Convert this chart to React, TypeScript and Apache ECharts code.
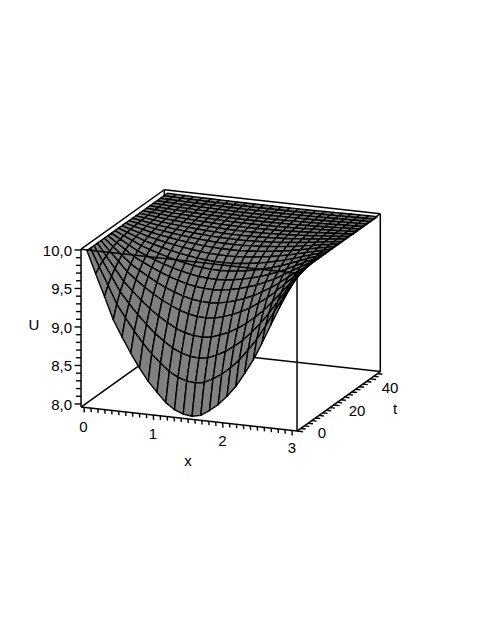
import React, { useEffect, useRef } from "react";
import * as echarts from "echarts";

// Depth of the dip below U = 10 along the t = 0 edge, one value per x mesh line
const dropAtX = [0, 0.29, 0.57, 0.86, 1.07, 1.27, 1.45, 1.61, 1.74, 1.86, 1.94, 1.985, 2.0, 1.975, 1.9, 1.81, 1.69, 1.55, 1.37, 1.18, 0.95, 0.7, 0.46, 0.24, 0];
// Share of that dip left at each t mesh line
const fadeAtT = [1, 0.8, 0.655, 0.535, 0.426, 0.344, 0.275, 0.225, 0.183, 0.148, 0.12, 0.097, 0.079, 0.064, 0.052, 0.042, 0.034, 0.027, 0.022, 0.018, 0.014, 0.011, 0.009, 0.007];
const xMesh = [0.043, 0.169, 0.296, 0.422, 0.548, 0.675, 0.801, 0.927, 1.054, 1.18, 1.306, 1.432, 1.559, 1.685, 1.811, 1.938, 2.064, 2.19, 2.317, 2.443, 2.569, 2.696, 2.822, 2.948, 3.074];
const tMesh = [0, 1.913, 3.826, 5.739, 7.652, 9.565, 11.478, 13.391, 15.304, 17.217, 19.13, 21.043, 22.957, 24.87, 26.783, 28.696, 30.609, 32.522, 34.435, 36.348, 38.261, 40.174, 42.087, 44];
const xTickLabels = ["0", "1", "2", "3"];
const tTickLabels = ["0", "20", "40"];
const uTickLabels = ["8,0", "8,5", "9,0", "9,5", "10,0"];
const xRange = [-0.043, 3.074];
const tRange = [0, 45.6];
const uRange = [7.96, 10.01];

const project = (x: number, t: number, u: number): [number, number] => [
  84 + 69.3 * x + 1.826 * t,
  404.3 + 7.7 * x - 1.304 * t - 77 * (u - 8),
];
const surfaceU = (i: number, j: number) => 10 - dropAtX[i] * fadeAtT[j];

type Seg = [number, number, number, number, number, number];
const edge = (a: number[], b: number[]): Seg => [a[0], a[1], a[2], b[0], b[1], b[2]];
const [x0, x1] = xRange;
const [t0, t1] = tRange;
const [u0, u1] = uRange;

const backEdges: Seg[] = [
  edge([x0, t0, u0], [x0, t1, u0]),
  edge([x0, t1, u0], [x1, t1, u0]),
  edge([x0, t1, u0], [x0, t1, u1]),
  edge([x1, t1, u0], [x1, t1, u1]),
];
const frontEdges: Seg[] = [
  edge([x0, t0, u0], [x1, t0, u0]),
  edge([x1, t0, u0], [x1, t1, u0]),
  edge([x0, t0, u0], [x0, t0, u1]),
  edge([x1, t0, u0], [x1, t0, u1]),
  edge([x0, t0, u1], [x1, t0, u1]),
  edge([x1, t0, u1], [x1, t1, u1]),
  edge([x1, t1, u1], [x0, t1, u1]),
  edge([x0, t1, u1], [x0, t0, u1]),
];

const cells: number[][] = [];
for (let j = tMesh.length - 2; j >= 0; j--) {
  for (let i = 0; i < xMesh.length - 1; i++) {
    cells.push([
      ...project(xMesh[i], tMesh[j], surfaceU(i, j)),
      ...project(xMesh[i + 1], tMesh[j], surfaceU(i + 1, j)),
      ...project(xMesh[i + 1], tMesh[j + 1], surfaceU(i + 1, j + 1)),
      ...project(xMesh[i], tMesh[j + 1], surfaceU(i, j + 1)),
    ]);
  }
}

const ticks: number[][] = [];
for (let k = 0; k <= 30; k++) {
  const x = k / 10;
  const [a, b] = project(x, 0, u0);
  ticks.push([a, b, a + 0.3, b + (k % 10 === 0 ? 5 : 4)]);
}
for (let k = 0; k <= 20; k++) {
  const u = 8 + k / 10;
  const [a, b] = project(x0, 0, u);
  ticks.push([a, b, a - (k % 5 === 0 ? 6.5 : 5), b]);
}
for (let k = 0; k <= 22; k++) {
  const t = k * 2;
  const [a, b] = project(x1, t, u0);
  const len = k % 10 === 0 ? 6 : 5;
  ticks.push([a, b, a + len, b + len * 0.11]);
}

type Lab = { text: string; x: number; y: number; align: string };
const labels: Lab[] = [
  ...xTickLabels.map((text, k) => ({ text, x: 83.5 + 69.5 * k, y: 426 + 7.3 * k, align: "center" })),
  ...tTickLabels.map((text, k) => ({ text, x: [322, 357, 390][k], y: [432, 410, 387][k], align: "center" })),
  ...uTickLabels.map((text, k) => ({ text, x: 72, y: 404 - 38.5 * k, align: "right" })),
  { text: "x", x: 188, y: 460, align: "center" },
  { text: "t", x: 395, y: 408, align: "center" },
  { text: "U", x: 34, y: 324, align: "center" },
];

const lineSeries = (data: number[][], z: number, width: number) => ({
  type: "custom",
  coordinateSystem: "cartesian2d",
  silent: true,
  clip: false,
  z,
  data,
  encode: { x: 0, y: 1 },
  renderItem: (_: any, api: any) => {
    const p = api.coord([api.value(0), api.value(1)]);
    const q = api.coord([api.value(2), api.value(3)]);
    return {
      type: "line",
      shape: { x1: p[0], y1: p[1], x2: q[0], y2: q[1] },
      style: { stroke: "#000", lineWidth: width, fill: "none" },
    };
  },
});

const toScreen = (s: Seg[]) =>
  s.map((e) => [...project(e[0], e[1], e[2]), ...project(e[3], e[4], e[5])]);

export default function App() {
  const ref = useRef<HTMLDivElement>(null);
  useEffect(() => {
    const chart = echarts.init(ref.current!, undefined, { renderer: "svg" });
    chart.setOption({
      animation: false,
      backgroundColor: "#fff",
      grid: { left: 0, right: 0, top: 0, bottom: 0 },
      xAxis: { type: "value", min: 0, max: 491, show: false },
      yAxis: { type: "value", min: 0, max: 635, inverse: true, show: false },
      series: [
        lineSeries(toScreen(backEdges), 1, 1.5),
        {
          type: "custom",
          coordinateSystem: "cartesian2d",
          silent: true,
          clip: false,
          z: 2,
          data: cells,
          encode: { x: 0, y: 1 },
          renderItem: (_: any, api: any) => {
            const pts = [0, 2, 4, 6].map((k) => api.coord([api.value(k), api.value(k + 1)]));
            return {
              type: "polygon",
              shape: { points: pts },
              style: { fill: "#808080", stroke: "#000", lineWidth: 1.4, lineJoin: "round" },
            };
          },
        },
        lineSeries(toScreen(frontEdges), 3, 1.5),
        lineSeries(ticks, 3, 1.4),
        {
          type: "custom",
          coordinateSystem: "cartesian2d",
          silent: true,
          clip: false,
          z: 4,
          data: labels.map((l) => [l.x, l.y]),
          encode: { x: 0, y: 1 },
          renderItem: (params: any, api: any) => {
            const l = labels[params.dataIndex];
            const p = api.coord([l.x, l.y]);
            return {
              type: "text",
              style: {
                text: l.text,
                x: p[0],
                y: p[1],
                fill: "#000",
                font: '15px "Liberation Sans", Arial, sans-serif',
                align: l.align,
                verticalAlign: "middle",
              },
            };
          },
        },
      ],
    });
    return () => chart.dispose();
  }, []);
  return (
    <div
      ref={ref}
      style={{ position: "absolute", left: 0, top: 0, width: 491, height: 635, background: "#fff" }}
    />
  );
}
